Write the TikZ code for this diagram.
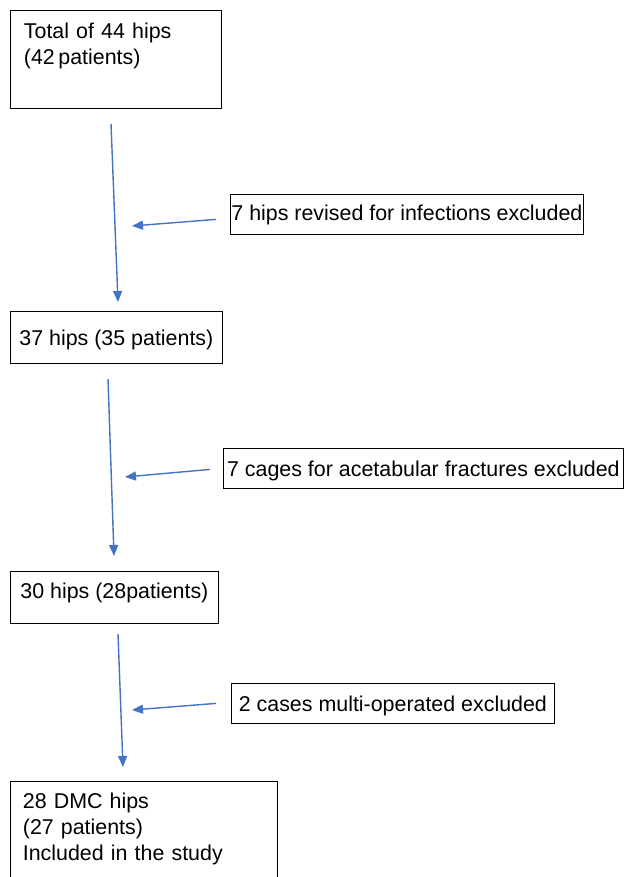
\documentclass[tikz,border=0pt]{standalone}
\usepackage{fontspec}
\setmainfont{Liberation Sans}
\usetikzlibrary{arrows.meta,calc}
\definecolor{flowblue}{RGB}{68,114,196}

\begin{document}
\begin{tikzpicture}[x=1pt, y=-1pt,
  box/.style={draw=black, line width=0.8pt, inner sep=0pt, anchor=north west,
    font=\fontsize{21.4}{26}\selectfont},
  arrow/.style={-{Triangle[length=11pt,width=9pt]}, line width=1.4pt, draw=flowblue}
]
\useasboundingbox (0,0) rectangle (625,877);
\clip (0,0) rectangle (625,877);
% main column
\node[box, inner xsep=13.5pt, text width=184pt, align=left,
  text height=15pt, text depth=57pt, inner ysep=13pt] (total) at (10,10)
  {Total of 44 hips\\(42\,patients)};
\node[box, minimum width=212pt, text height=34pt, text depth=18pt] (hips37) at (10,311)
  {37 hips (35 patients)};
\node[box, minimum width=208pt, text height=27pt, text depth=25pt] (hips30) at (10,571)
  {30 hips (28patients)};
\node[box, inner xsep=12.5pt, text width=242pt, align=left,
  text height=15pt, text depth=80pt, inner ysep=12pt] (study) at (10,781)
  {28 DMC hips\\(27 patients)\\Included in the study};
% excluded
\node[box, minimum width=353pt, text height=26pt, text depth=14pt] (infect) at (230,194)
  {7 hips revised for infections excluded};
\node[box, minimum width=400pt, text height=28pt, text depth=12pt] (cages) at (223,448)
  {7 cages for acetabular fractures excluded};
\node[box, minimum width=323pt, text height=28pt, text depth=12pt] (multi) at (231,683)
  {2 cases multi-operated excluded};
\coordinate (m1) at (132,226);
\coordinate (m2) at (125,477);
\coordinate (m3) at (132,710);
% arrows
\draw[arrow] ([shift={(101,15)}]total.south west) -- ([shift={(108,-9)}]hips37.north west);
\draw[arrow] ([shift={(98,15)}]hips37.south west) -- ([shift={(104,-15)}]hips30.north west);
\draw[arrow] ([shift={(108,10)}]hips30.south west) -- ([shift={(113,-14)}]study.north west);
\draw[arrow] ([shift={(-14,5)}]infect.west) -- (m1);
\draw[arrow] ([shift={(-13,1)}]cages.west) -- (m2);
\draw[arrow] ([shift={(-15,0)}]multi.west) -- (m3);
\end{tikzpicture}
\end{document}
